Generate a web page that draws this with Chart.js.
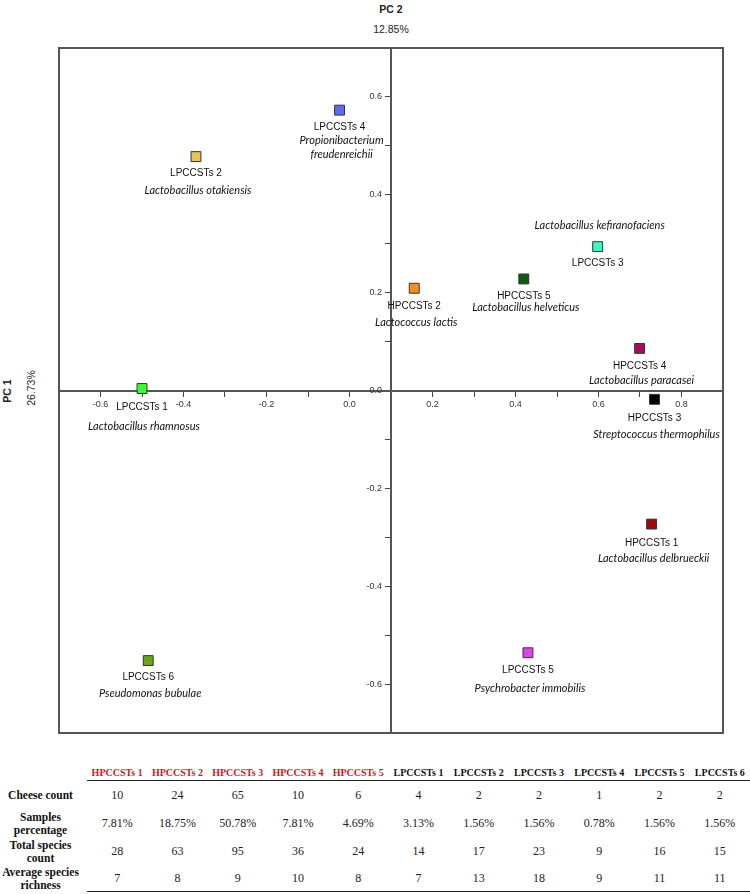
<!DOCTYPE html>
<html>
<head>
<meta charset="utf-8">
<script src="https://cdn.jsdelivr.net/npm/chart.js@4"></script>
<style>
  body { margin: 0; background: #fff; width: 750px; height: 894px; position: relative; overflow: hidden; }
  #wrap { position: absolute; left: 0; top: 0; width: 750px; height: 745px; }
  .ttl { position: absolute; font-family: "Liberation Sans", Arial, sans-serif; color: #222; white-space: nowrap; }
  .rot { transform: translate(-50%, -50%) rotate(-90deg); }
  .hz { transform: translate(-50%, -50%); }
  #tbl { position: absolute; left: 0; top: 765px; width: 750px; border-collapse: collapse; table-layout: fixed;
         font-family: "Liberation Serif", "Times New Roman", serif; color: #222; }
  #tbl td, #tbl th { padding: 0; text-align: center; vertical-align: middle; }
  #tbl th { font-size: 10px; font-weight: bold; height: 15px; border-bottom: 1.5px solid #222; }
  #tbl th.blank { border-bottom: none; }
  #tbl td { font-size: 12px; line-height: 13px; }
  #tbl td.lab { font-weight: bold; font-size: 11.5px; color: #111; padding-right: 6px; }
  #tbl tr.last td { border-bottom: 1.5px solid #222; }
  #tbl tr.last td.lab { border-bottom: none; }
</style>
</head>
<body>
<div class="ttl hz" style="left:391px; top:9px; font-size:10.5px; font-weight:bold;">PC 2</div>
<div class="ttl hz" style="left:391px; top:29px; font-size:10.5px;">12.85%</div>
<div class="ttl rot" style="left:7px; top:391px; font-size:10.5px; font-weight:bold;">PC 1</div>
<div class="ttl rot" style="left:31px; top:388px; font-size:10.5px;">26.73%</div>
<div id="wrap"><canvas id="chartPca" width="750" height="745"></canvas></div>
<table id="tbl"></table>
<script>
// PCA scores (PC 1 on x, PC 2 on y)
const groups = ['LPCCSTs 4', 'LPCCSTs 2', 'LPCCSTs 3', 'HPCCSTs 5', 'HPCCSTs 2', 'LPCCSTs 1',
                'HPCCSTs 4', 'HPCCSTs 3', 'HPCCSTs 1', 'LPCCSTs 5', 'LPCCSTs 6'];
const species = [
  ['Propionibacterium', 'freudenreichii'],
  ['Lactobacillus otakiensis'],
  ['Lactobacillus kefiranofaciens'],
  ['Lactobacillus helveticus'],
  ['Lactococcus lactis'],
  ['Lactobacillus rhamnosus'],
  ['Lactobacillus paracasei'],
  ['Streptococcus thermophilus'],
  ['Lactobacillus delbrueckii'],
  ['Psychrobacter immobilis'],
  ['Pseudomonas bubulae']
];
const pc1 = [-0.024, -0.37, 0.598, 0.42, 0.156, -0.50, 0.699, 0.735, 0.728, 0.43, -0.485];
const pc2 = [0.573, 0.478, 0.294, 0.228, 0.209, 0.004, 0.086, -0.018, -0.273, -0.536, -0.552];

// table
const tableCols = ['HPCCSTs 1', 'HPCCSTs 2', 'HPCCSTs 3', 'HPCCSTs 4', 'HPCCSTs 5',
                   'LPCCSTs 1', 'LPCCSTs 2', 'LPCCSTs 3', 'LPCCSTs 4', 'LPCCSTs 5', 'LPCCSTs 6'];
const cheeseCount = [10, 24, 65, 10, 6, 4, 2, 2, 1, 2, 2];
const samplesPct = ['7.81%', '18.75%', '50.78%', '7.81%', '4.69%', '3.13%', '1.56%', '1.56%', '0.78%', '1.56%', '1.56%'];
const totalSpecies = [28, 63, 95, 36, 24, 14, 17, 23, 9, 16, 15];
const avgRichness = [7, 8, 9, 10, 8, 7, 13, 18, 9, 11, 11];
const rowLabels = [['Cheese count'], ['Samples', 'percentage'], ['Total species', 'count'], ['Average species', 'richness']];

// styling
const pointColors = ['#5b6ef2', '#ecc05c', '#40f5c4', '#0b5c0b', '#ff8c1a', '#3cfa3c',
                     '#a0105c', '#000000', '#9a0a0a', '#e040f2', '#6ca31c'];
// [group label dy, species first line dy] from the marker centre
const labelDy = [[17, 30], [17, 34], [17, -21], [17, 29], [18, 34], [19, 38],
                 [18, 32], [19, 35], [19, 34], [17, 36], [17, 33]];
const Y_AXIS_AT = 0.1;

const onlyEven = (v, lo, hi) => {
  const n = Math.round(v * 10);
  return (n % 2 === 0 && v > lo + 1e-9 && v < hi - 1e-9) ? (n / 10).toFixed(1) : '';
};

const boxPlugin = {
  id: 'box',
  afterDraw(chart) {
    const { ctx, chartArea: a } = chart;
    ctx.save();
    ctx.strokeStyle = '#555';
    ctx.lineWidth = 2;
    ctx.strokeRect(a.left, a.top, a.right - a.left, a.bottom - a.top);
    // y tick labels, set off to the left of the centred axis
    const ys = chart.scales.y;
    const xPx = chart.scales.x.getPixelForValue(Y_AXIS_AT);
    ctx.fillStyle = '#333';
    ctx.font = '9px "Liberation Sans", Arial, sans-serif';
    ctx.textAlign = 'right';
    ctx.textBaseline = 'middle';
    ys.ticks.forEach(t => {
      const lab = onlyEven(t.value, ys.min, ys.max);
      if (lab) ctx.fillText(lab, xPx - 9, ys.getPixelForValue(t.value));
    });
    ctx.restore();
  }
};

const labelPlugin = {
  id: 'pointLabels',
  afterDatasetsDraw(chart) {
    const { ctx } = chart;
    const meta = chart.getDatasetMeta(0);
    ctx.save();
    ctx.textAlign = 'center';
    ctx.textBaseline = 'middle';
    ctx.fillStyle = '#111';
    meta.data.forEach((pt, i) => {
      const [gdy, sdy] = labelDy[i];
      ctx.font = '10px "Liberation Sans", Arial, sans-serif';
      ctx.fillText(groups[i], pt.x, pt.y + gdy);
      ctx.font = 'italic 11px Lato, "Open Sans", sans-serif';
      species[i].forEach((line, k) => {
        ctx.fillText(line, pt.x + 2, pt.y + sdy + k * 14);
      });
    });
    ctx.restore();
  }
};

const chart = document.getElementById('chartPca');

new Chart(chart, {
  type: 'scatter',
  data: {
    datasets: [{
      data: pc1.map((x, i) => ({ x: x, y: pc2[i] })),
      backgroundColor: pointColors,
      borderColor: '#333',
      borderWidth: 1,
      pointStyle: 'rect',
      pointRadius: 7,
      pointHoverRadius: 7
    }]
  },
  options: {
    responsive: false,
    animation: false,
    layout: { padding: { left: 59, top: 48, right: 27, bottom: 12 } },
    plugins: {
      legend: { display: false },
      tooltip: { enabled: false }
    },
    scales: {
      x: {
        type: 'linear',
        min: -0.7,
        max: 0.9,
        position: { y: 0 },
        afterBuildTicks: s => { s.ticks = s.ticks.filter(t => t.value > -0.69 && t.value < 0.89); },
        ticks: {
          stepSize: 0.1,
          autoSkip: false,
          maxRotation: 0,
          padding: 4,
          color: '#333',
          font: { family: '"Liberation Sans", Arial, sans-serif', size: 9 },
          callback: v => onlyEven(v, -0.7, 0.9)
        },
        grid: { drawOnChartArea: false, drawTicks: true, tickLength: 5, color: '#444', lineWidth: 1 },
        border: { display: true, color: '#555', width: 2 }
      },
      y: {
        type: 'linear',
        min: -0.7,
        max: 0.7,
        position: { x: Y_AXIS_AT },
        afterBuildTicks: s => { s.ticks = s.ticks.filter(t => t.value > -0.69 && t.value < 0.69); },
        ticks: { stepSize: 0.1, autoSkip: false, display: false },
        grid: { drawOnChartArea: false, drawTicks: true, tickLength: 5, color: '#444', lineWidth: 1 },
        border: { display: true, color: '#555', width: 2 }
      }
    }
  },
  plugins: [boxPlugin, labelPlugin]
});

// summary table under the plot
const tbl = document.getElementById('tbl');
let html = '<colgroup><col style="width:87px">' + tableCols.map(() => '<col style="width:60.27px">').join('') + '</colgroup>';
html += '<tr><th class="blank"></th>' + tableCols.map(c =>
  '<th style="color:' + (c.startsWith('H') ? '#d2161b' : '#111') + '">' + c + '</th>').join('') + '</tr>';
const rows = [cheeseCount, samplesPct, totalSpecies, avgRichness];
const rowHeights = [29, 28, 28, 26];
rows.forEach((vals, r) => {
  html += '<tr' + (r === rows.length - 1 ? ' class="last"' : '') + ' style="height:' + rowHeights[r] + 'px">';
  html += '<td class="lab">' + rowLabels[r].join('<br>') + '</td>';
  html += vals.map(v => '<td>' + v + '</td>').join('');
  html += '</tr>';
});
tbl.innerHTML = html;
</script>
</body>
</html>
